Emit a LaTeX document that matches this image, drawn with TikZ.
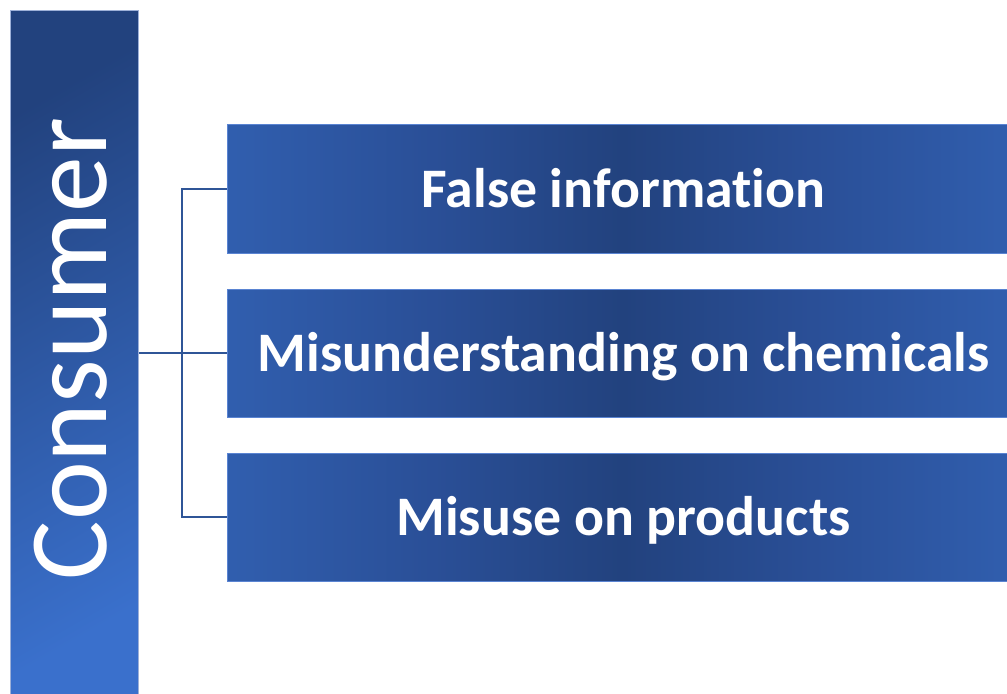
\documentclass[tikz,border=0pt]{standalone}
\usepackage{fontspec}
\setmainfont{Carlito}[Ligatures={NoCommon}]
\definecolor{dk}{HTML}{22427E}
\definecolor{md}{HTML}{2A4F97}
\definecolor{ml}{HTML}{3262B4}
\definecolor{lt}{HTML}{3A70CC}
\definecolor{ln}{HTML}{2F5597}
\definecolor{barline}{HTML}{9DB0D8}
\definecolor{boxline}{HTML}{5A84D2}
\pgfdeclarehorizontalshading{boxshade}{100bp}{color(0bp)=(lt); color(22bp)=(ml); color(38bp)=(md); color(50bp)=(dk); color(62bp)=(md); color(78bp)=(ml); color(100bp)=(lt)}
\begin{document}
\begin{tikzpicture}[x=1bp,y=-1bp,
  barbox/.style={draw=barline, line width=1bp, shading=axis, top color=dk, bottom color=lt, shading angle=30,
    minimum width=128bp, minimum height=700bp, inner sep=0pt, anchor=north west},
  itembox/.style={draw=boxline, line width=1bp, shading=boxshade, minimum width=792bp, minimum height=128bp,
    inner sep=0pt, anchor=west, text=white, font=\bfseries\fontsize{56}{60}\selectfont, text height=36bp, text depth=0bp},
  barlabel/.style={rotate=90, text=white, font=\fontsize{112}{120}\selectfont, text height=72bp, text depth=0bp, inner sep=0pt},
  conn/.style={draw=ln, line width=2bp}]
\useasboundingbox (0,0) rectangle (1007,694);
\node[barbox] (bar) at (10,10) {};
\node[barlabel] (lbl) at (70.5,349) {Consumer};
\node[itembox] (b1) at (227,189) {False information};
\node[itembox] (b2) at (227,353) {Misunderstanding on chemicals};
\node[itembox] (b3) at (227,517) {Misuse on products};
\coordinate (j) at (182,353);
\draw[conn] (bar.east |- b2.west) -- (b2.west);
\draw[conn] (b1.west) -| (j) |- (b3.west);
\end{tikzpicture}
\end{document}
